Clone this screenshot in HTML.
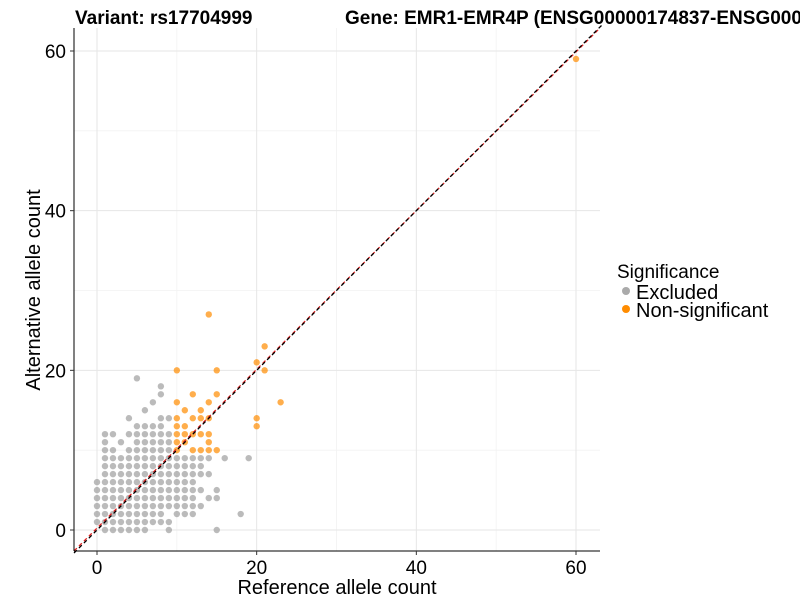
<!DOCTYPE html>
<html><head><meta charset="utf-8"><style>
body{margin:0;background:#fff;font-family:"Liberation Sans",Arial,sans-serif}
</style></head><body>
<svg width="800" height="600" xmlns="http://www.w3.org/2000/svg" style="font-family:'Liberation Sans',Arial,sans-serif">
<g id="grid"></g>
<g id="pts"></g>
<line x1="74" y1="551" x2="600" y2="28" stroke="#e02020" stroke-width="1.3" stroke-dasharray="4,3"/>
<line x1="74" y1="553" x2="603" y2="24" stroke="#000" stroke-width="1.3" stroke-dasharray="4,3"/>
<line x1="74" y1="28" x2="74" y2="551" stroke="#000"/>
<line x1="74" y1="551" x2="600" y2="551" stroke="#000"/>
<g id="ticks"></g>
<text x="75" y="24" font-size="19" font-weight="bold">Variant: rs17704999</text>
<text x="345" y="24" font-size="19" font-weight="bold">Gene: EMR1-EMR4P (ENSG00000174837-ENSG00000</text>
<text x="337" y="594" font-size="20" text-anchor="middle">Reference allele count</text>
<text transform="translate(40,290) rotate(-90)" font-size="20" text-anchor="middle">Alternative allele count</text>
<g>
<text x="617" y="278" font-size="19">Significance</text>
<circle cx="626" cy="291" r="4" fill="#aaa"/>
<text x="636" y="299" font-size="20">Excluded</text>
<circle cx="626" cy="309" r="4" fill="#ff8c00"/>
<text x="636" y="317" font-size="20">Non-significant</text>
</g>
</svg>
<script>
const xTicks=[0,20,40,60];
const yTicks=[0,20,40,60];
const minorTicks=[10,30,50];
const grayRows=[
[0,[1,2,3,4,5,6,9,15]],
[1,[0,1,2,3,4,5,6,7,8,9]],
[2,[0,1,2,3,4,5,6,7,8,10,11,12,18]],
[3,[0,1,2,3,4,5,6,7,8,9,10,11,12,13]],
[4,[0,1,2,3,4,5,6,7,8,9,10,11,12,14,15]],
[5,[0,1,2,3,4,5,6,7,8,9,10,11,12,13,15]],
[6,[0,1,2,3,4,5,6,7,8,9,10,11,12]],
[7,[1,2,3,4,5,6,7,8,9,10,11,12,13,14]],
[8,[1,2,3,4,5,6,7,8,9,10,11,12,13]],
[9,[1,2,3,4,5,6,7,8,9,10,11,12,13,14,16,19]],
[10,[1,2,4,5,6,7,8,9]],
[11,[1,3,5,6,7,8,9]],
[12,[1,2,4,5,6,7,8,9]],
[13,[5,6,7,8]],
[14,[4,8,9]],
[15,[6]],[16,[7]],[17,[8]],[18,[8]],[19,[5]]
];
const orangeRows=[
[10,[10,12,13,14,15]],
[11,[10,11,14]],
[12,[10,11,12,13,14]],
[13,[10,11,20]],
[14,[10,12,13,14,20]],
[15,[11,13]],
[16,[10,14,23]],
[17,[12,15]],
[20,[10,15,21]],
[21,[20]],
[23,[21]],
[27,[14]],
[59,[60]]
];
const ns="http://www.w3.org/2000/svg";
const sx=v=>97+v*(479/60), sy=v=>530-v*(479/60);
const grid=document.getElementById('grid'),pts=document.getElementById('pts'),tk=document.getElementById('ticks');
function ln(x1,y1,x2,y2,c,w){const l=document.createElementNS(ns,'line');l.setAttribute('x1',x1);l.setAttribute('y1',y1);l.setAttribute('x2',x2);l.setAttribute('y2',y2);l.setAttribute('stroke',c);l.setAttribute('stroke-width',w);return l;}
minorTicks.forEach(v=>{
 let a=ln(sx(v),28,sx(v),551,'#f2f2f2',0.8);
 
 grid.appendChild(a);
 let b=ln(74,sy(v),600,sy(v),'#f2f2f2',0.8);
 
 grid.appendChild(b);
});
xTicks.forEach(v=>{
 let a=ln(sx(v),28,sx(v),551,'#e6e6e6',1);
 
 grid.appendChild(a);
 let t=document.createElementNS(ns,'text');t.setAttribute('x',sx(v));t.setAttribute('y',574);t.setAttribute('font-size','19');t.setAttribute('text-anchor','middle');t.textContent=v;
 
 tk.appendChild(t);
 let m=ln(sx(v),551,sx(v),555,'#333',1);
 
 tk.appendChild(m);
});
yTicks.forEach(v=>{
 let a=ln(74,sy(v),600,sy(v),'#e6e6e6',1);
 
 grid.appendChild(a);
 let t=document.createElementNS(ns,'text');t.setAttribute('x',66);t.setAttribute('y',sy(v)+7);t.setAttribute('font-size','19');t.setAttribute('text-anchor','end');t.textContent=v;
 
 tk.appendChild(t);
 let m=ln(70,sy(v),74,sy(v),'#333',1);
 
 tk.appendChild(m);
});
function dot(x,y,c,name){const d=document.createElementNS(ns,'circle');d.setAttribute('cx',sx(x));d.setAttribute('cy',sy(y));d.setAttribute('r',3.2);d.setAttribute('fill',c);d.setAttribute('fill-opacity','0.7');
 
 pts.appendChild(d);}
grayRows.forEach(([y,xs])=>xs.forEach(x=>dot(x,y,'#9e9e9e','point-excluded')));
orangeRows.forEach(([y,xs])=>xs.forEach(x=>dot(x,y,'#ff8c00','point-nonsignificant')));
</script>
</body></html>
